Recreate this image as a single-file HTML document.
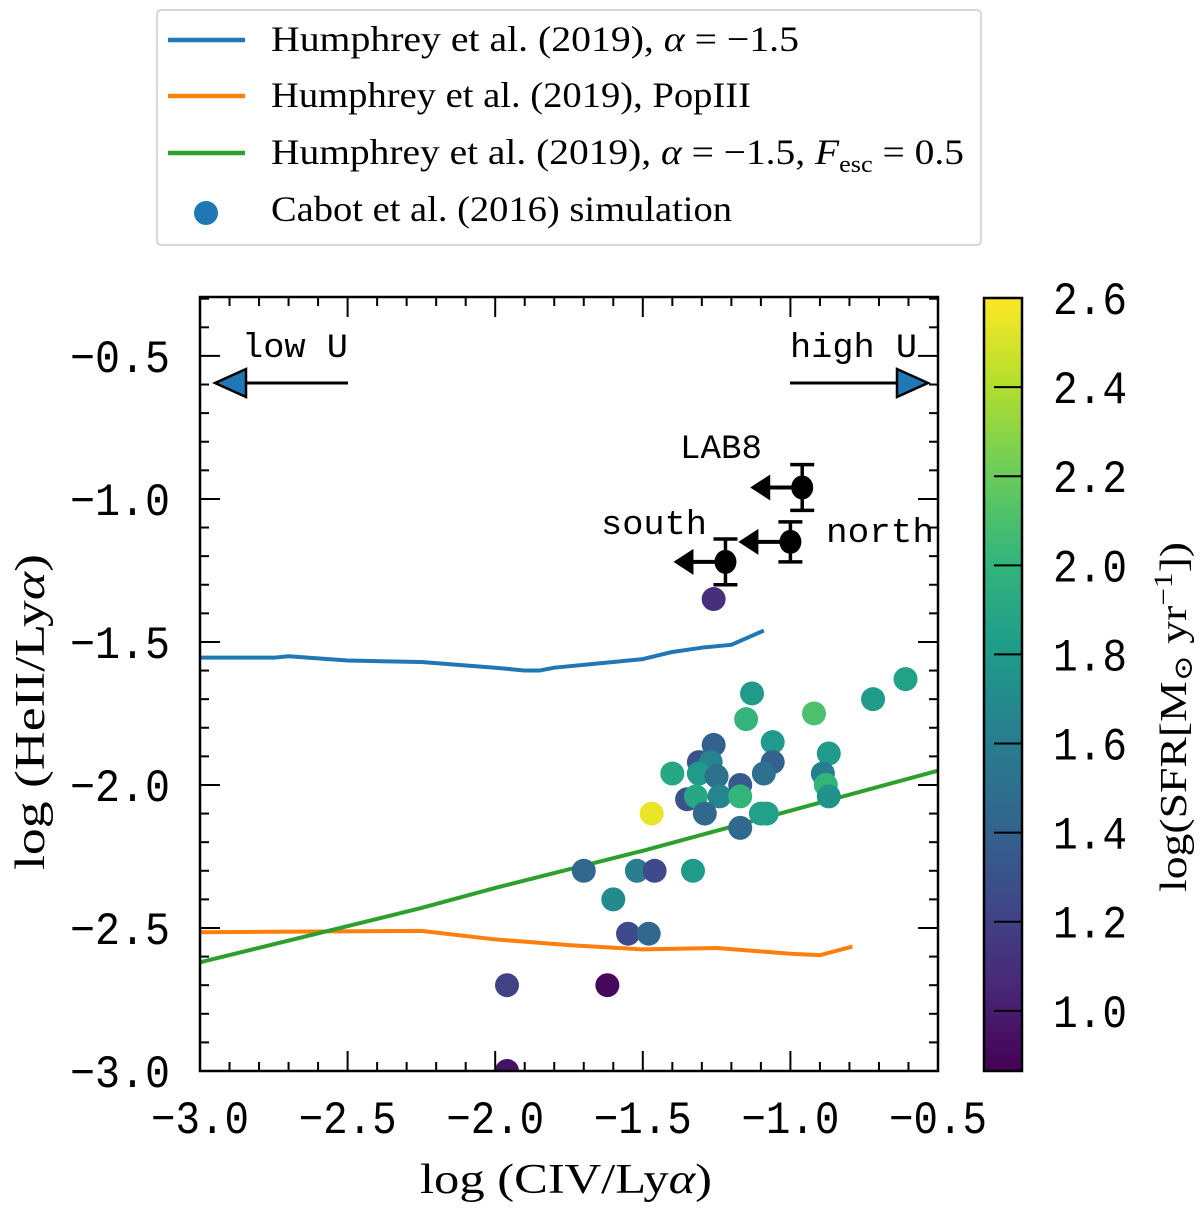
<!DOCTYPE html>
<html><head><meta charset="utf-8"><style>
html,body{margin:0;padding:0;background:#fff;}
svg{display:block}
.mono{font-family:"Liberation Mono","DejaVu Sans Mono",monospace;}
.serif{font-family:"Liberation Serif","DejaVu Serif",serif;}
</style></head><body>
<svg id="chart" width="1200" height="1209" viewBox="0 0 1200 1209" xmlns="http://www.w3.org/2000/svg">
<g id="legend">
<rect x="157" y="10" width="824" height="235" rx="4" fill="#fff" stroke="#ccc" stroke-width="1.5"/>
<line x1="168" y1="40" x2="245" y2="40" stroke="#1f77b4" stroke-width="4.5"/>
<text x="271" y="51" class="serif" font-size="36" textLength="528" lengthAdjust="spacingAndGlyphs">Humphrey et al. (2019), <tspan font-style="italic">α</tspan> = −1.5</text>
<line x1="168" y1="96" x2="245" y2="96" stroke="#ff7f0e" stroke-width="4.5"/>
<text x="271" y="107" class="serif" font-size="36" textLength="480" lengthAdjust="spacingAndGlyphs">Humphrey et al. (2019), PopIII</text>
<line x1="168" y1="153" x2="245" y2="153" stroke="#2ca02c" stroke-width="4.5"/>
<text x="271" y="164" class="serif" font-size="36" textLength="693" lengthAdjust="spacingAndGlyphs">Humphrey et al. (2019), <tspan font-style="italic">α</tspan> = −1.5, <tspan font-style="italic">F</tspan><tspan font-size="24" dy="8">esc</tspan><tspan dy="-8"> = 0.5</tspan></text>
<ellipse cx="206" cy="213" rx="12" ry="12" fill="#1f77b4"/>
<text x="271" y="221" class="serif" font-size="36" textLength="461" lengthAdjust="spacingAndGlyphs">Cabot et al. (2016) simulation</text>
</g>
<g id="plot"></g>
</svg>
<script>
const xMin=-3, xMax=-0.5, yMin=-3, yMax=-0.294;
const L=200,R=938,T=297,B=1071;
function sx(v){return L+(v-xMin)/(xMax-xMin)*(R-L);}
function sy(v){return B-(v-yMin)/(yMax-yMin)*(B-T);}
const cMin=0.865,cMax=2.6,cT=298,cB=1071;
function cy(v){return cB-(v-cMin)/(cMax-cMin)*(cB-cT);}

// Data
const simX=[-1.26,-1.13,-1.15,-0.72,-0.61,-0.92,-1.26,-1.06,-1.06,-1.31,-1.27,-0.87,-1.40,-1.31,-1.25,-1.09,-0.89,-1.17,-0.88,-1.35,-1.32,-1.24,-1.17,-0.87,-1.47,-1.29,-1.10,-1.08,-1.17,-1.70,-1.52,-1.46,-1.33,-1.60,-1.55,-1.48,-1.96,-1.62,-1.96];
const simY=[-1.35,-1.68,-1.77,-1.70,-1.63,-1.75,-1.86,-1.85,-1.92,-1.92,-1.92,-1.89,-1.96,-1.96,-1.97,-1.96,-1.96,-2.00,-2.00,-2.05,-2.04,-2.04,-2.04,-2.04,-2.10,-2.10,-2.10,-2.10,-2.15,-2.30,-2.30,-2.30,-2.30,-2.40,-2.52,-2.52,-2.70,-2.70,-3.00];
const simSFR=[1.1,1.8,2.0,1.8,1.85,2.1,1.4,1.8,1.4,1.3,1.65,1.8,1.9,1.8,1.5,1.5,1.6,1.35,2.0,1.3,1.9,1.65,2.0,1.75,2.55,1.45,1.85,1.85,1.45,1.45,1.6,1.25,1.8,1.7,1.25,1.45,1.2,0.9,0.95];
const alphaX=[-3,-2.75,-2.7,-2.5,-2.25,-2.0,-1.9,-1.85,-1.8,-1.6,-1.5,-1.4,-1.3,-1.2,-1.09];
const alphaY=[-1.555,-1.555,-1.55,-1.565,-1.57,-1.59,-1.60,-1.60,-1.59,-1.57,-1.56,-1.535,-1.52,-1.51,-1.46];
const popX=[-3,-2.25,-2.0,-1.75,-1.5,-1.25,-1.0,-0.9,-0.79];
const popY=[-2.515,-2.51,-2.54,-2.56,-2.575,-2.57,-2.59,-2.595,-2.565];
const fescX=[-3,-2.25,-2.0,-1.5,-1.0,-0.5];
const fescY=[-2.62,-2.43,-2.36,-2.23,-2.09,-1.95];
const obsNames=["LAB8","north","south"];
const obsX=[-0.96,-1.0,-1.22];
const obsY=[-0.96,-1.15,-1.22];
const obsErr=[0.08,0.07,0.08];
const xTicks=[-3.0,-2.5,-2.0,-1.5,-1.0,-0.5];
const xTickLabels=["−3.0","−2.5","−2.0","−1.5","−1.0","−0.5"];
const yTicks=[-3.0,-2.5,-2.0,-1.5,-1.0,-0.5];
const yTickLabels=["−3.0","−2.5","−2.0","−1.5","−1.0","−0.5"];
const cTicks=[1.0,1.2,1.4,1.6,1.8,2.0,2.2,2.4,2.6];
const cTickLabels=["1.0","1.2","1.4","1.6","1.8","2.0","2.2","2.4","2.6"];

const vir=[[68,1,84],[72,40,120],[62,74,137],[49,104,142],[38,130,142],[31,158,137],[53,183,121],[109,205,89],[180,222,44],[253,231,37]];
function viridis(t){t=Math.max(0,Math.min(1,t));const f=t*9,i=Math.min(8,Math.floor(f)),r=f-i;
const a=vir[i],b=vir[i+1];return `rgb(${a.map((v,k)=>Math.round(v+(b[k]-v)*r)).join(',')})`;}

const NS="http://www.w3.org/2000/svg";
const g=document.getElementById('plot');
function el(tag,attrs,parent){const e=document.createElementNS(NS,tag);for(const k in attrs)e.setAttribute(k,attrs[k]);(parent||g).appendChild(e);return e;}

const defs=el('defs',{});
const cp=el('clipPath',{id:'clip'},defs);
el('rect',{x:L,y:T,width:R-L,height:B-T},cp);
const cg=el('g',{'clip-path':'url(#clip)'});



function line(xs,ys,color,name){
 const p=el('polyline',{points:xs.map((x,i)=>sx(x)+','+sy(ys[i])).join(' '),fill:'none',stroke:color,'stroke-width':4,'stroke-linejoin':'round'},cg);
 
 
}
line(alphaX,alphaY,'#1f77b4','line-alpha');
line(popX,popY,'#ff7f0e','line-popiii');
line(fescX,fescY,'#2ca02c','line-fesc');

simX.forEach((x,i)=>{
 const c=el('circle',{cx:sx(x),cy:sy(simY[i]),r:12,fill:viridis((simSFR[i]-cMin)/(cMax-cMin))},cg);
 
 
});

obsX.forEach((x,i)=>{
 const px=sx(x),py=sy(obsY[i]),e=obsErr[i];
 const og=el('g',{});
 
 
 el('line',{x1:px,y1:sy(obsY[i]+e),x2:px,y2:sy(obsY[i]-e),stroke:'#000','stroke-width':3.5},og);
 el('line',{x1:px-12,y1:sy(obsY[i]+e),x2:px+12,y2:sy(obsY[i]+e),stroke:'#000','stroke-width':3.5},og);
 el('line',{x1:px-12,y1:sy(obsY[i]-e),x2:px+12,y2:sy(obsY[i]-e),stroke:'#000','stroke-width':3.5},og);
 el('line',{x1:px,y1:py,x2:px-35,y2:py,stroke:'#000','stroke-width':4},og);
 el('polygon',{points:`${px-52},${py} ${px-32},${py-13} ${px-32},${py+13}`,fill:'#000'},og);
 el('ellipse',{cx:px,cy:py,rx:11,ry:12,fill:'#000'},og);
});
const lab=[[680,458,'LAB8',82],[826,542,'north',108],[601,534,'south',106]];
lab.forEach(l=>{const t=el('text',{x:l[0],y:l[1],class:'mono','font-size':34,textLength:l[3],lengthAdjust:'spacingAndGlyphs'});t.textContent=l[2];
 
 });

function uarrow(x1,x2,dir,name){
 const ag=el('g',{});
 
 
 const y=383;
 el('line',{x1:x1,y1:y,x2:x2,y2:y,stroke:'#000','stroke-width':3},ag);
 const tip=x2, base=x2-dir*31;
 el('polygon',{points:`${tip},${y} ${base},${y-14} ${base},${y+14}`,fill:'#1f77b4',stroke:'#000','stroke-width':2.5},ag);
}
uarrow(348,215,-1,'low-u-arrow');
uarrow(790,928,1,'high-u-arrow');
let t=el('text',{x:242,y:357,class:'mono','font-size':34,textLength:106,lengthAdjust:'spacingAndGlyphs'});t.textContent='low U';


t=el('text',{x:790,y:357,class:'mono','font-size':34,textLength:127,lengthAdjust:'spacingAndGlyphs'});t.textContent='high U';



const fr=el('rect',{x:L,y:T,width:R-L,height:B-T,fill:'none',stroke:'#000','stroke-width':2.5});



const tg=el('g',{stroke:'#000','stroke-width':2});


for(let k=0;k<=25;k++){const v=xMin+k*0.1;const x=sx(v);const len=(k%5===0)?20:9;
 el('line',{x1:x,y1:B,x2:x,y2:B-len},tg);el('line',{x1:x,y1:T,x2:x,y2:T+len},tg);}
for(let k=0;k<=27;k++){const v=yMin+k*0.1;if(v>yMax)break;const y=sy(v);const len=(k%5===0)?20:9;
 el('line',{x1:L,y1:y,x2:L+len,y2:y},tg);el('line',{x1:R,y1:y,x2:R-len,y2:y},tg);}
xTicks.forEach((v,i)=>{const t=el('text',{x:sx(v)-49,y:1133,class:'mono','font-size':46,textLength:98,lengthAdjust:'spacingAndGlyphs'});t.textContent=xTickLabels[i];
 
 });
yTicks.forEach((v,i)=>{const t=el('text',{x:70,y:sy(v)+16,class:'mono','font-size':46,textLength:100,lengthAdjust:'spacingAndGlyphs'});t.textContent=yTickLabels[i];
 
 });

t=el('text',{x:420,y:1193,class:'serif','font-size':42,textLength:292,lengthAdjust:'spacingAndGlyphs'});
t.innerHTML='log (CIV/Ly<tspan font-style="italic">α</tspan>)';


t=el('text',{x:0,y:0,class:'serif','font-size':42,textLength:316,lengthAdjust:'spacingAndGlyphs',transform:'translate(44,870) rotate(-90)'});
t.innerHTML='log (HeII/Ly<tspan font-style="italic">α</tspan>)';



const lg=el('linearGradient',{id:'vg',x1:0,y1:1,x2:0,y2:0},defs);
for(let k=0;k<=9;k++){el('stop',{offset:k/9,'stop-color':`rgb(${vir[k].join(',')})`},lg);}
const cb=el('rect',{x:984,y:cT,width:38,height:cB-cT,fill:'url(#vg)',stroke:'#000','stroke-width':2.5});


cTicks.forEach((v,i)=>{const y=cy(v);
 const ln=el('line',{x1:994,y1:y,x2:1022,y2:y,stroke:'#000','stroke-width':2});
 
 
 const t=el('text',{x:1053,y:y+16,class:'mono','font-size':46,textLength:74,lengthAdjust:'spacingAndGlyphs'});t.textContent=cTickLabels[i];
 
 });
t=el('text',{x:0,y:0,class:'serif','font-size':38,textLength:350,lengthAdjust:'spacingAndGlyphs',transform:'translate(1186,892) rotate(-90)'});
t.innerHTML='log(SFR[M<tspan font-size="26" dy="6">⊙</tspan><tspan dy="-6"> yr</tspan><tspan font-size="26" dy="-14">−1</tspan><tspan dy="14">])</tspan>';


</script>
</body></html>
